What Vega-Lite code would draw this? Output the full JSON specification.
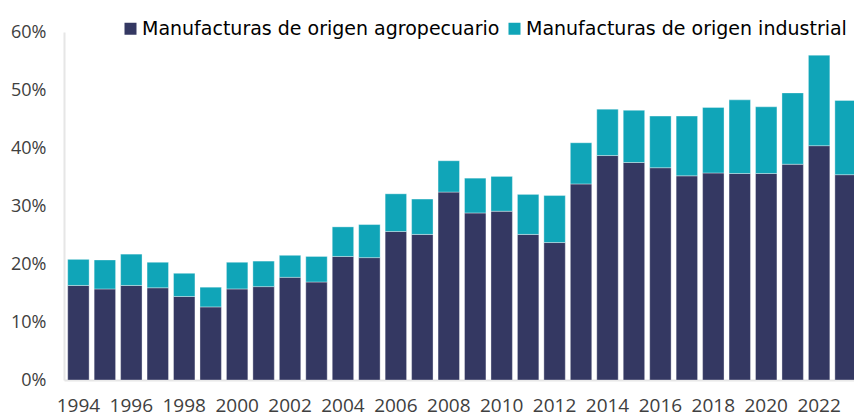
{
  "$schema": "https://vega.github.io/schema/vega-lite/v6.json",
  "width": 790,
  "height": 348,
  "autosize": "none",
  "padding": {"left": 64, "top": 32, "right": 0, "bottom": 36},
  "background": "#ffffff",
  "config": {"view": {"stroke": null}},
  "data": {"values": [
    {"anio": 1994, "serie": "Manufacturas de origen agropecuario", "valor": 16.3},
    {"anio": 1995, "serie": "Manufacturas de origen agropecuario", "valor": 15.7},
    {"anio": 1996, "serie": "Manufacturas de origen agropecuario", "valor": 16.3},
    {"anio": 1997, "serie": "Manufacturas de origen agropecuario", "valor": 15.9},
    {"anio": 1998, "serie": "Manufacturas de origen agropecuario", "valor": 14.4},
    {"anio": 1999, "serie": "Manufacturas de origen agropecuario", "valor": 12.6},
    {"anio": 2000, "serie": "Manufacturas de origen agropecuario", "valor": 15.7},
    {"anio": 2001, "serie": "Manufacturas de origen agropecuario", "valor": 16.1},
    {"anio": 2002, "serie": "Manufacturas de origen agropecuario", "valor": 17.7},
    {"anio": 2003, "serie": "Manufacturas de origen agropecuario", "valor": 16.9},
    {"anio": 2004, "serie": "Manufacturas de origen agropecuario", "valor": 21.3},
    {"anio": 2005, "serie": "Manufacturas de origen agropecuario", "valor": 21.1},
    {"anio": 2006, "serie": "Manufacturas de origen agropecuario", "valor": 25.6},
    {"anio": 2007, "serie": "Manufacturas de origen agropecuario", "valor": 25.1},
    {"anio": 2008, "serie": "Manufacturas de origen agropecuario", "valor": 32.4},
    {"anio": 2009, "serie": "Manufacturas de origen agropecuario", "valor": 28.8},
    {"anio": 2010, "serie": "Manufacturas de origen agropecuario", "valor": 29.1},
    {"anio": 2011, "serie": "Manufacturas de origen agropecuario", "valor": 25.1},
    {"anio": 2012, "serie": "Manufacturas de origen agropecuario", "valor": 23.7},
    {"anio": 2013, "serie": "Manufacturas de origen agropecuario", "valor": 33.8},
    {"anio": 2014, "serie": "Manufacturas de origen agropecuario", "valor": 38.7},
    {"anio": 2015, "serie": "Manufacturas de origen agropecuario", "valor": 37.5},
    {"anio": 2016, "serie": "Manufacturas de origen agropecuario", "valor": 36.6},
    {"anio": 2017, "serie": "Manufacturas de origen agropecuario", "valor": 35.2},
    {"anio": 2018, "serie": "Manufacturas de origen agropecuario", "valor": 35.7},
    {"anio": 2019, "serie": "Manufacturas de origen agropecuario", "valor": 35.6},
    {"anio": 2020, "serie": "Manufacturas de origen agropecuario", "valor": 35.6},
    {"anio": 2021, "serie": "Manufacturas de origen agropecuario", "valor": 37.2},
    {"anio": 2022, "serie": "Manufacturas de origen agropecuario", "valor": 40.4},
    {"anio": 2023, "serie": "Manufacturas de origen agropecuario", "valor": 35.4},
    {"anio": 1994, "serie": "Manufacturas de origen industrial", "valor": 4.5},
    {"anio": 1995, "serie": "Manufacturas de origen industrial", "valor": 5.0},
    {"anio": 1996, "serie": "Manufacturas de origen industrial", "valor": 5.4},
    {"anio": 1997, "serie": "Manufacturas de origen industrial", "valor": 4.4},
    {"anio": 1998, "serie": "Manufacturas de origen industrial", "valor": 4.0},
    {"anio": 1999, "serie": "Manufacturas de origen industrial", "valor": 3.4},
    {"anio": 2000, "serie": "Manufacturas de origen industrial", "valor": 4.6},
    {"anio": 2001, "serie": "Manufacturas de origen industrial", "valor": 4.4},
    {"anio": 2002, "serie": "Manufacturas de origen industrial", "valor": 3.8},
    {"anio": 2003, "serie": "Manufacturas de origen industrial", "valor": 4.4},
    {"anio": 2004, "serie": "Manufacturas de origen industrial", "valor": 5.1},
    {"anio": 2005, "serie": "Manufacturas de origen industrial", "valor": 5.7},
    {"anio": 2006, "serie": "Manufacturas de origen industrial", "valor": 6.5},
    {"anio": 2007, "serie": "Manufacturas de origen industrial", "valor": 6.1},
    {"anio": 2008, "serie": "Manufacturas de origen industrial", "valor": 5.4},
    {"anio": 2009, "serie": "Manufacturas de origen industrial", "valor": 6.0},
    {"anio": 2010, "serie": "Manufacturas de origen industrial", "valor": 6.0},
    {"anio": 2011, "serie": "Manufacturas de origen industrial", "valor": 6.9},
    {"anio": 2012, "serie": "Manufacturas de origen industrial", "valor": 8.1},
    {"anio": 2013, "serie": "Manufacturas de origen industrial", "valor": 7.1},
    {"anio": 2014, "serie": "Manufacturas de origen industrial", "valor": 8.0},
    {"anio": 2015, "serie": "Manufacturas de origen industrial", "valor": 9.0},
    {"anio": 2016, "serie": "Manufacturas de origen industrial", "valor": 8.9},
    {"anio": 2017, "serie": "Manufacturas de origen industrial", "valor": 10.3},
    {"anio": 2018, "serie": "Manufacturas de origen industrial", "valor": 11.3},
    {"anio": 2019, "serie": "Manufacturas de origen industrial", "valor": 12.7},
    {"anio": 2020, "serie": "Manufacturas de origen industrial", "valor": 11.5},
    {"anio": 2021, "serie": "Manufacturas de origen industrial", "valor": 12.3},
    {"anio": 2022, "serie": "Manufacturas de origen industrial", "valor": 15.6},
    {"anio": 2023, "serie": "Manufacturas de origen industrial", "valor": 12.8}
  ]},
  "mark": {"type": "bar", "stroke": "#ffffff", "strokeOpacity": 0.35, "strokeWidth": 1},
  "encoding": {
    "x": {
      "field": "anio", "type": "ordinal",
      "scale": {"range": [0, 796], "paddingInner": 0.19, "paddingOuter": 0.14},
      "axis": {
        "title": null,
        "values": [1994, 1996, 1998, 2000, 2002, 2004, 2006, 2008, 2010, 2012, 2014, 2016, 2018, 2020, 2022],
        "labelAngle": 0,
        "labelFont": "Open Sans",
        "labelFontSize": 19,
        "labelColor": "#404040",
        "labelPadding": 16,
        "ticks": false,
        "domainColor": "#e6e6e6",
        "domainWidth": 2,
        "grid": false
      }
    },
    "y": {
      "field": "valor", "type": "quantitative", "stack": "zero",
      "scale": {"domain": [0, 60], "nice": false},
      "axis": {
        "title": null,
        "values": [0, 10, 20, 30, 40, 50, 60],
        "labelExpr": "datum.value + '%'",
        "labelFont": "Open Sans",
        "labelFontSize": 18,
        "labelColor": "#404040",
        "labelPadding": 18,
        "ticks": false,
        "grid": false,
        "domainColor": "#e6e6e6",
        "domainWidth": 2
      }
    },
    "color": {
      "field": "serie", "type": "nominal",
      "scale": {
        "domain": ["Manufacturas de origen agropecuario", "Manufacturas de origen industrial"],
        "range": ["#343862", "#10a5b8"]
      },
      "legend": {
        "title": null,
        "orient": "none",
        "direction": "horizontal",
        "legendX": 57,
        "legendY": -13,
        "padding": 0,
        "symbolType": "square",
        "symbolSize": 144,
        "symbolStrokeWidth": 0,
        "labelFont": "DejaVu Sans",
        "labelFontSize": 19,
        "labelColor": "#000000",
        "labelOffset": 2,
        "columnPadding": 5,
        "labelLimit": 450
      }
    },
    "order": {"field": "serie", "sort": "ascending"}
  }
}
